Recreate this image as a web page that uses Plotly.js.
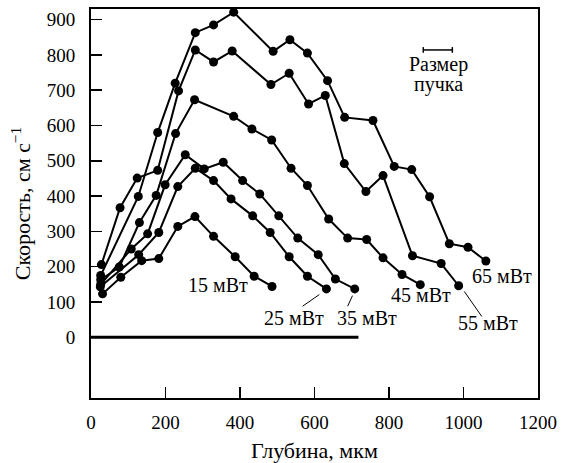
<!DOCTYPE html>
<html>
<head>
<meta charset="utf-8">
<script src="https://cdn.plot.ly/plotly-3.0.1.min.js"></script>
<style>html,body{margin:0;padding:0;background:#fff;}#chart{width:561px;height:463px;}</style>
</head>
<body>
<div id="chart"></div>
<script>
// Depth (µm) and velocity (cm/s) for each laser power
const x15 = [31, 80, 136, 182, 233, 279, 329, 387, 438, 486];
const y15 = [123, 170, 217, 223, 314, 342, 286, 228, 173, 144];

const x25 = [25, 128, 182, 233, 280, 329, 376, 434, 481, 532, 581, 632];
const y25 = [143, 234, 297, 427, 479, 444, 392, 344, 297, 228, 173, 137];

const x35 = [26, 108, 152, 199, 253, 304, 355, 407, 453, 504, 555, 610, 656, 708];
const y35 = [150, 250, 293, 432, 517, 477, 496, 444, 406, 344, 281, 234, 165, 137];

const x45 = [26, 76, 130, 175, 227, 278, 383, 432, 485, 537, 581, 638, 689, 740, 784, 835, 884];
const y45 = [163, 199, 325, 402, 577, 673, 626, 590, 559, 479, 430, 335, 281, 277, 225, 178, 149];

const x55 = [28, 78, 124, 179, 235, 280, 329, 379, 483, 532, 584, 629, 680, 738, 784, 863, 940, 987];
const y55 = [206, 367, 451, 473, 698, 814, 780, 811, 716, 748, 661, 685, 492, 413, 458, 231, 209, 146];

const x65 = [26, 127, 179, 226, 280, 329, 383, 489, 534, 581, 635, 681, 757, 814, 861, 909, 962, 1012, 1060];
const y65 = [175, 399, 580, 720, 863, 885, 921, 810, 843, 805, 727, 623, 614, 484, 475, 398, 265, 255, 216];

const seriesNames = ['15 мВт', '25 мВт', '35 мВт', '45 мВт', '55 мВт', '65 мВт'];
const zeroLineX = [0, 718];
const zeroLineY = [0, 0];
const beamX = [892, 970];
const beamY = [814, 814];

const xTicks = [0, 200, 400, 600, 800, 1000, 1200];
const yTicks = [0, 100, 200, 300, 400, 500, 600, 700, 800, 900];

const FONT = '"Liberation Serif", "Times New Roman", serif';
const xs = [x15, x25, x35, x45, x55, x65];
const ys = [y15, y25, y35, y45, y55, y65];

const traces = xs.map((x, i) => ({
  x: x, y: ys[i], name: seriesNames[i], type: 'scatter', mode: 'lines+markers',
  line: {color: '#000', width: 2}, marker: {color: '#000', size: 9},
  showlegend: false, cliponaxis: false
}));
traces.push({x: zeroLineX, y: zeroLineY, type: 'scatter', mode: 'lines',
  line: {color: '#000', width: 3}, showlegend: false, hoverinfo: 'skip'});
traces.push({x: beamX, y: beamY, type: 'scatter', mode: 'lines',
  line: {color: '#000', width: 1.5}, showlegend: false, hoverinfo: 'skip'});

const labelFont = {family: FONT, size: 20, color: '#000'};
const annotations = [
  {x: 340, y: 149, text: '15 мВт'},
  {x: 544, y: 56, text: '25 мВт'},
  {x: 741, y: 56, text: '35 мВт'},
  {x: 885, y: 121, text: '45 мВт'},
  {x: 1066, y: 41, text: '55 мВт'},
  {x: 1104, y: 175, text: '65 мВт'},
  {x: 932, y: 772, text: 'Размер'},
  {x: 932, y: 715, text: 'пучка'}
].map(a => Object.assign({xref: 'x', yref: 'y', showarrow: false, font: labelFont,
  xanchor: 'center', yanchor: 'middle'}, a));

const shapes = [
  {type: 'line', xref: 'x', yref: 'y', x0: 613, y0: 121, x1: 568, y1: 88, line: {color: '#000', width: 1}},
  {type: 'line', xref: 'x', yref: 'y', x0: 702, y0: 118, x1: 689, y1: 88, line: {color: '#000', width: 1}},
  {type: 'line', xref: 'x', yref: 'y', x0: 1002, y0: 130, x1: 1049, y1: 59, line: {color: '#000', width: 1}},
  {type: 'line', xref: 'x', yref: 'y', x0: 892, y0: 806, x1: 892, y1: 822, line: {color: '#000', width: 1.5}},
  {type: 'line', xref: 'x', yref: 'y', x0: 970, y0: 806, x1: 970, y1: 822, line: {color: '#000', width: 1.5}}
];

const layout = {
  width: 561, height: 463,
  margin: {l: 91, r: 23, t: 9, b: 65, pad: 0},
  paper_bgcolor: '#fff', plot_bgcolor: '#fff',
  font: {family: FONT, size: 19, color: '#000'},
  showlegend: false,
  xaxis: {
    range: [0, 1200], tickvals: xTicks, ticktext: xTicks.map(String),
    ticks: 'inside', ticklen: 11, tickwidth: 1.5, tickcolor: '#000',
    showline: true, linewidth: 2, linecolor: '#000', mirror: true,
    showgrid: false, zeroline: false, ticklabelstandoff: 6,
    tickfont: {family: FONT, size: 19, color: '#000'},
    title: {text: 'Глубина, мкм', font: {family: FONT, size: 22, color: '#000'}, standoff: 14}
  },
  yaxis: {
    range: [-172, 930], tickvals: yTicks, ticktext: yTicks.map(String),
    ticks: 'inside', ticklen: 11, tickwidth: 1.5, tickcolor: '#000',
    showline: true, linewidth: 2, linecolor: '#000', mirror: true,
    showgrid: false, zeroline: false, ticklabelstandoff: 10,
    tickfont: {family: FONT, size: 19, color: '#000'},
    title: {text: 'Скорость, см с<sup>−1</sup>', font: {family: FONT, size: 22, color: '#000'}, standoff: 10}
  },
  annotations: annotations,
  shapes: shapes
};

Plotly.newPlot('chart', traces, layout, {staticPlot: true, displayModeBar: false});
</script>
</body>
</html>
